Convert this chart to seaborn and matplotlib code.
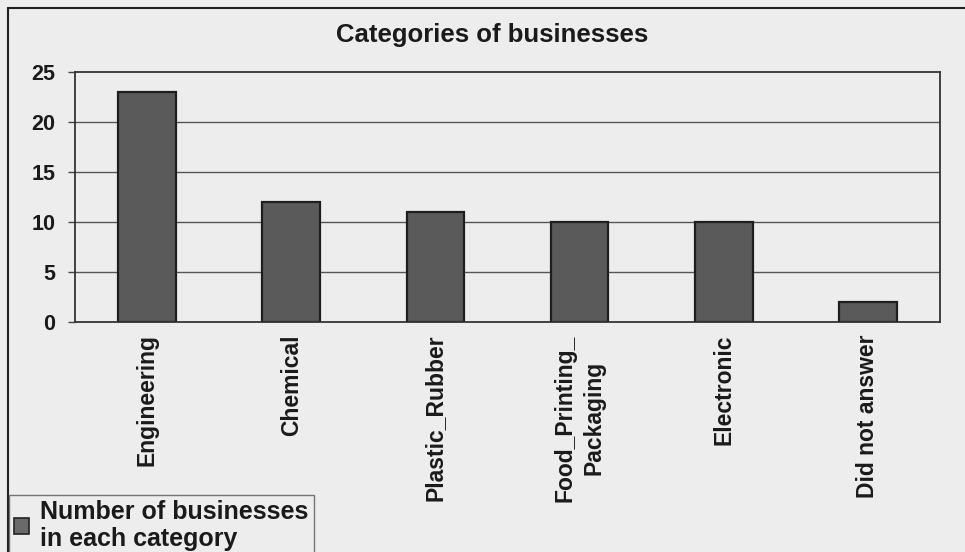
import matplotlib
matplotlib.use("Agg")
import matplotlib.pyplot as plt
import seaborn as sns
import pandas as pd
from matplotlib.patches import Rectangle, Patch
from matplotlib.ticker import FixedLocator

categories = ["Engineering", "Chemical", "Plastic_Rubber", "Food_Printing_\nPackaging", "Electronic", "Did not answer"]
values = [23, 12, 11, 10, 10, 2]
yticks = [0, 5, 10, 15, 20, 25]
title = "Categories of businesses"
legend_label = "Number of businesses\nin each category"

sns.set_theme(style="white")
plt.rcParams["font.family"] = ["Liberation Sans", "DejaVu Sans"]
plt.rcParams["font.weight"] = "bold"

bg = "#ededed"
fig = plt.figure(figsize=(9.65, 5.52), dpi=100, facecolor=bg)
ax = fig.add_axes([75/965, 1-322/552, (940-75)/965, (322-72)/552])
ax.set_facecolor(bg)

df = pd.DataFrame({"category": categories, "value": values})
sns.barplot(data=df, x="category", y="value", ax=ax, color="#5a5a5a",
            edgecolor="#1e1e1e", linewidth=1.6, width=0.4, saturation=1)

ax.set_ylim(0, 25)
ax.set_xlim(-0.5, len(categories) - 0.5)
ax.set_yticks(yticks)
ax.set_yticklabels([str(t) for t in yticks], fontsize=15.5, fontweight="bold", color="#1a1a1a")
for t in yticks[1:-1]:
    ax.axhline(t, color="#555555", linewidth=1.0, zorder=0)
ax.set_xticks(range(len(categories)))
ax.set_xticklabels(categories, rotation=90, fontsize=16.5, fontweight="bold",
                   color="#1a1a1a", va="top", ha="center", multialignment="center",
                   linespacing=1.3)
ax.tick_params(axis="x", which="major", length=0, pad=9)
ax.xaxis.set_minor_locator(FixedLocator([i + 0.5 for i in range(len(categories))]))
ax.tick_params(axis="x", which="minor", length=5, color="#444444", direction="out", width=1)
ax.tick_params(axis="y", length=5, color="#444444", direction="out", width=1, pad=9, left=True)
ax.set_xlabel("")
ax.set_ylabel("")
for s in ax.spines.values():
    s.set_visible(True)
    s.set_color("#333333")
    s.set_linewidth(1.3)

fig.text(492/965, 1-35/552, title, ha="center", va="center", fontsize=18.5, fontweight="bold", color="#1a1a1a")

# outer border
fig.patches.append(Rectangle((8/965, -0.01), 1.0, 1 - 8/552 + 0.01, transform=fig.transFigure,
                             fill=False, edgecolor="#222222", linewidth=1.5))

handle = Patch(facecolor="#6a6a6a", edgecolor="#222222", linewidth=1.2)
leg = fig.legend([handle], [legend_label], loc="lower left", bbox_to_anchor=(9/965, -0.008),
                 frameon=True, fancybox=False, prop={"weight": "bold", "size": 18},
                 handlelength=0.6, handleheight=0.6, handletextpad=0.45, borderpad=0.2,
                 borderaxespad=0, labelspacing=0.2)
for txt in leg.get_texts():
    txt.set_color("#1a1a1a")
leg.get_frame().set_facecolor(bg)
leg.get_frame().set_edgecolor("#555555")
leg.get_frame().set_linewidth(1.0)

fig.savefig("out.png", dpi=100, facecolor=bg)
